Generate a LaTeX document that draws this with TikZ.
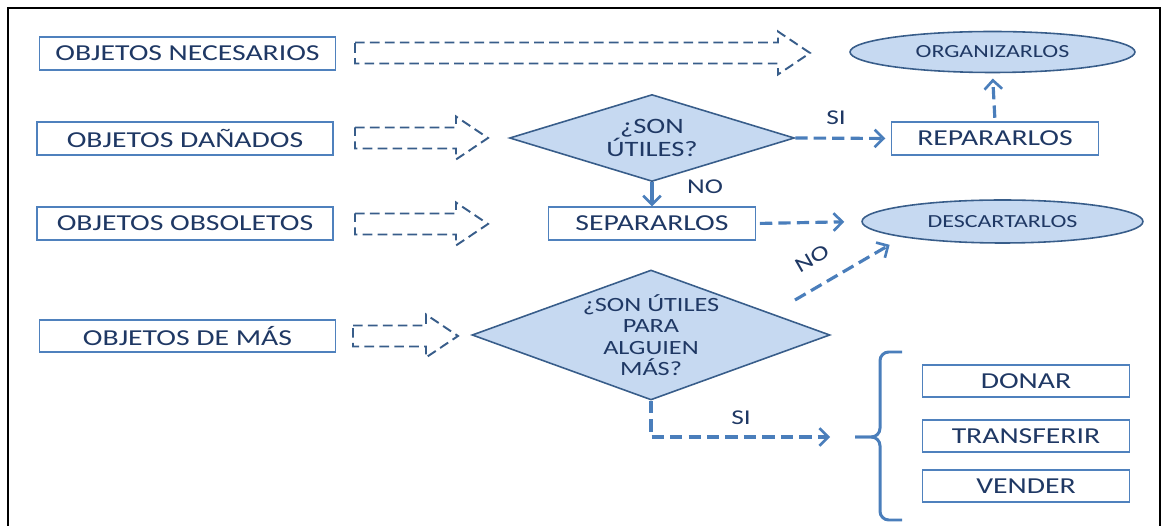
\documentclass[tikz,border=0pt]{standalone}
\usepackage{fontspec}
\setmainfont[FakeStretch=1.3]{Carlito}
\usetikzlibrary{shapes.geometric,arrows.meta}
\definecolor{boxblue}{HTML}{4F81BD}
\definecolor{darkblue}{HTML}{385D8A}
\definecolor{lineblue}{HTML}{4A7EBB}
\definecolor{fillblue}{HTML}{C6D9F1}
\definecolor{navy}{HTML}{1F3864}
% hollow dashed block arrow: left x, right x, y
\newcommand\blockarrow[3]{%
  \draw[block arrow] (#1,#3-10.5) -- (#2-32,#3-10.5) -- (#2-32,#3-21.5) -- (#2,#3)
    -- (#2-32,#3+21.5) -- (#2-32,#3+10.5) -- (#1,#3+10.5) -- cycle;}
\begin{document}
\begin{tikzpicture}
  [
    x=0.02cm, y=-0.02cm,
    text=navy,
    box/.style={draw=boxblue, line width=1.1pt, fill=white, inner sep=0,
      minimum height=0.65cm, font=\fontsize{13}{14}\selectfont},
    obj box/.style={box, minimum width=5.92cm},
    act box/.style={box, minimum width=4.14cm},
    question/.style={diamond, draw=darkblue, line width=0.9pt, fill=fillblue,
      inner sep=0},
    goal/.style={ellipse, draw=darkblue, line width=0.9pt, fill=fillblue,
      inner sep=0, minimum height=0.82cm, font=\fontsize{10.5}{12}\selectfont},
    block arrow/.style={draw=darkblue, line width=1.1pt, dash pattern=on 5.5pt off 3pt},
    conn/.style={draw=lineblue, line width=1.8pt,
      -{Straight Barb[length=5pt,width=10pt,line width=1.5pt]}},
    dconn/.style={conn, dash pattern=on 7pt off 3.5pt},
    lbl/.style={font=\fontsize{12}{14}\selectfont, inner sep=1pt},
  ]

  \useasboundingbox (0,0) rectangle (1167,526);
  \draw[line width=1.4pt] (8,540) -- (8,8) -- (1160,8) -- (1160,540);

  % objects
  \node(nec)[obj box] at (187.5,53.5) {OBJETOS NECESARIOS};
  \node(dan)[obj box] at (185,138.5) {OBJETOS DAÑADOS};
  \node(obs)[obj box] at (185,223.5) {OBJETOS OBSOLETOS};
  \node(mas)[obj box] at (187.5,336) {OBJETOS DE MÁS};

  \blockarrow{355}{810}{53}
  \blockarrow{355}{488}{138}
  \blockarrow{355}{488}{224}
  \blockarrow{353}{458}{336}

  % questions
  \node(d1)[question, minimum width=5.7cm, minimum height=1.74cm] at (652,138) {};
  \node(d1t)[align=center, font=\fontsize{12.5}{13.6}\selectfont] at (d1) {¿SON\\ÚTILES?};
  \node(d2)[question, minimum width=7.16cm, minimum height=2.6cm] at (651,335) {};
  \node(d2t)[align=center, font=\fontsize{11.5}{12.2}\selectfont] at (d2) {¿SON ÚTILES\\PARA\\ALGUIEN\\MÁS?};

  % actions
  \node(rep)[act box] at (995,138.5) {REPARARLOS};
  \node(sep)[act box] at (652,223.5) {SEPARARLOS};
  \node(org)[goal, minimum width=5.7cm] at (992.5,52) {ORGANIZARLOS};
  \node(desc)[goal, minimum width=5.62cm, minimum height=0.86cm] at (1002.5,221.5) {DESCARTARLOS};

  \node(don)[act box] at (1026,381) {DONAR};
  \node(tra)[act box] at (1026,436) {TRANSFERIR};
  \node(ven)[act box] at (1026,486) {VENDER};

  % brace
  \coordinate (bt) at (855,437);
  \draw[lineblue, line width=1.7pt, rounded corners=5pt]
    (902,352) -- (880,352) -- (880,437) -- (bt);
  \draw[lineblue, line width=1.7pt, rounded corners=5pt]
    (bt) -- (880,437) -- (880,520) -- (902,520);

  % connectors
  \draw[dconn, shorten >=3pt] (d1.east) -- (rep.west);
  \draw[dconn, shorten <=2pt, shorten >=3pt] (rep.north) -- (org.south);
  \draw[conn] (d1.south) -- (sep.north);
  \draw[dconn, shorten <=2pt, shorten >=0.34cm] (sep.east) -- (desc.west);
  \coordinate (noA) at (795,300);
  \draw[dconn, shorten >=0.3cm] (noA) -- (desc.south west);
  \draw[dconn] (d2.south) |- ([xshift=-0.5cm]bt);

  \node(si1)[lbl] at (836,118) {SI};
  \node(no1)[lbl] at (705,187) {NO};
  \node(no2)[lbl, rotate=30] at (812,259) {NO};
  \node(si2)[lbl] at (741,418) {SI};

\end{tikzpicture}
\end{document}
